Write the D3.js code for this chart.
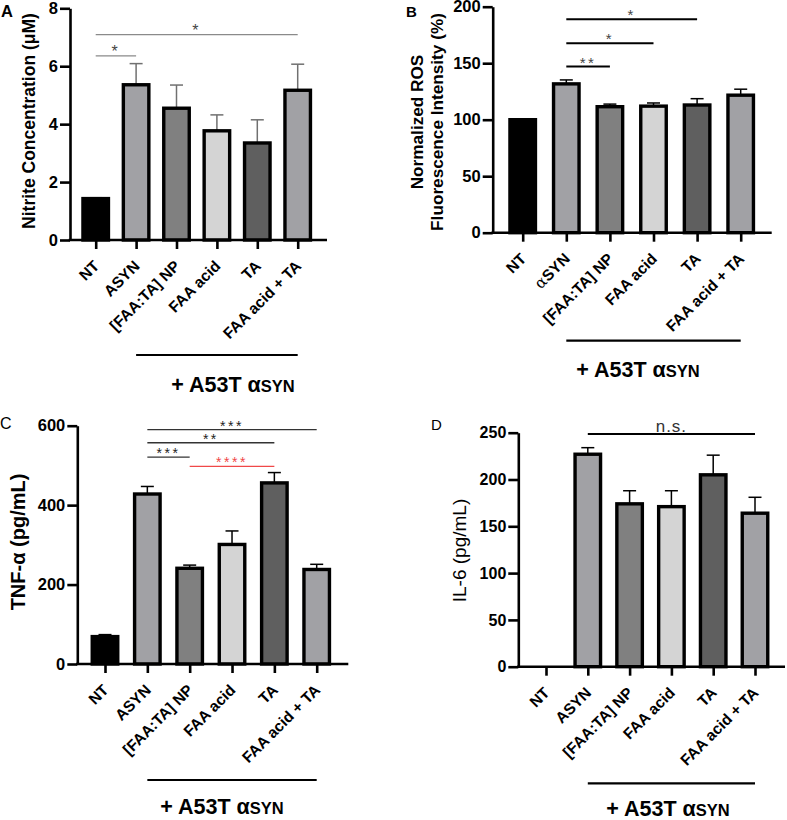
<!DOCTYPE html>
<html>
<head>
<meta charset="utf-8">
<script src="https://cdn.jsdelivr.net/npm/d3@7"></script>
<style>
  html, body { margin: 0; padding: 0; background: #fff; }
  svg { display: block; font-family: "Liberation Sans", Arial, sans-serif; }
</style>
</head>
<body>
<svg id="chart" width="787" height="820"></svg>
<script>
// ---------- DATA ----------
const categoriesA = ["NT", "ASYN", "[FAA:TA] NP", "FAA acid", "TA", "FAA acid + TA"];
const categoriesB = ["NT", "αSYN", "[FAA:TA] NP", "FAA acid", "TA", "FAA acid + TA"];
const categoriesC = ["NT", "ASYN", "[FAA:TA] NP", "FAA acid", "TA", "FAA acid + TA"];
const categoriesD = ["NT", "ASYN", "[FAA:TA] NP", "FAA acid", "TA", "FAA acid + TA"];

const nitriteMean = [1.43, 5.36, 4.55, 3.77, 3.35, 5.17];
const nitriteErr  = [0.03, 0.73, 0.8, 0.55, 0.8, 0.9];
const rosMean     = [100, 131.7, 111.5, 112, 113, 121.7];
const rosErr      = [0, 3.5, 2.3, 2.8, 5.6, 5.3];
const tnfMean     = [69, 428, 241, 301, 456, 238];
const tnfErr      = [5, 19, 8, 34, 26, 13];
const il6Mean     = [0, 227, 174, 171, 205, 164];
const il6Err      = [0, 7, 14, 17, 21, 17];

const ticksA = [0, 2, 4, 6, 8];
const ticksB = [0, 50, 100, 150, 200];
const ticksC = [0, 200, 400, 600];
const ticksD = [0, 50, 100, 150, 200, 250];

const barColors = ["#000000", "#a1a1a5", "#808080", "#d4d4d4", "#5f5f5f", "#a1a1a5"];

// significance annotations: from/to category index, y level (data units), label
const sigA = [
  { from: 0, to: 1, y: 6.36, label: "*" },
  { from: 0, to: 5, y: 7.09, label: "*" }
];
const sigB = [
  { from: 1, to: 2, y: 147, label: "**" },
  { from: 1, to: 3, y: 167.6, label: "*" },
  { from: 1, to: 4, y: 188.8, label: "*" }
];
const sigC = [
  { from: 1, to: 2, y: 521, label: "***", red: false },
  { from: 1, to: 4, y: 557, label: "**", red: false },
  { from: 1, to: 5, y: 590, label: "***", red: false },
  { from: 2, to: 4, y: 497.6, label: "****", red: true }
];
const sigD = [
  { from: 1, to: 5, y: 248.6, label: "n.s." }
];

// ---------- DRAW ----------
const svg = d3.select("#chart");

function panel(cfg) {
  const g = svg.append("g");
  const y = d3.scaleLinear().domain([0, cfg.ymax]).range([cfg.y0, cfg.y1]);
  const x = d3.scalePoint().domain(d3.range(cfg.cats.length)).range([cfg.xa, cfg.xb]);
  const bw = cfg.bw;

  // bars
  cfg.mean.forEach((m, i) => {
    if (m <= 0) return;
    if (cfg.err[i] > 0) {
      g.append("line")
        .attr("x1", x(i)).attr("x2", x(i))
        .attr("y1", y(m)).attr("y2", y(m + cfg.err[i]))
        .attr("stroke", cfg.errColor).attr("stroke-width", 1.5);
      g.append("line")
        .attr("x1", x(i) - 6.5).attr("x2", x(i) + 6.5)
        .attr("y1", y(m + cfg.err[i])).attr("y2", y(m + cfg.err[i]))
        .attr("stroke", cfg.errColor).attr("stroke-width", 1.5);
    }
    g.append("rect")
      .attr("x", x(i) - bw / 2).attr("width", bw)
      .attr("y", y(m)).attr("height", y(0) - y(m))
      .attr("fill", barColors[i])
      .attr("stroke", "#000").attr("stroke-width", 3.4);
  });

  // y axis
  const ya = g.append("g").attr("transform", `translate(${cfg.yx},0)`)
    .call(d3.axisLeft(y).tickValues(cfg.ticks).tickSize(10).tickSizeOuter(0).tickPadding(2));
  ya.select(".domain").attr("stroke", "#000").attr("stroke-width", 2.6);
  ya.selectAll(".tick line").attr("stroke", "#000").attr("stroke-width", 2.6);
  ya.selectAll(".tick text").attr("font-size", cfg.tickFont).attr("font-weight", "bold")
    .attr("fill", "#000").attr("font-family", "Liberation Sans, Arial, sans-serif");

  // x axis
  g.append("line").attr("x1", cfg.yx - 1.3).attr("x2", cfg.xend)
    .attr("y1", y(0)).attr("y2", y(0)).attr("stroke", "#000").attr("stroke-width", 2.6);
  const xa = g.append("g").attr("transform", `translate(0,${y(0)})`)
    .call(d3.axisBottom(x).tickSize(9).tickFormat(""));
  xa.select(".domain").remove();
  xa.selectAll(".tick line").attr("stroke", "#000").attr("stroke-width", 2.6);

  // category labels
  cfg.cats.forEach((c, i) => {
    const t = g.append("text")
      .attr("transform", `translate(${x(i) + 4.5},${y(0) + 27}) rotate(-45)`)
      .attr("text-anchor", "end")
      .attr("font-size", cfg.catFont).attr("font-weight", "bold").attr("fill", "#000");
    if (c.startsWith("α")) {
      t.append("tspan").attr("font-weight", "normal").attr("font-family", "DejaVu Serif, serif").text("α");
      t.append("tspan").text(c.slice(1));
    } else {
      t.text(c);
    }
  });

  // significance
  cfg.sig.forEach(s => {
    const col = s.red ? "#f04848" : cfg.sigColor;
    g.append("line")
      .attr("x1", x(s.from)).attr("x2", x(s.to))
      .attr("y1", y(s.y)).attr("y2", y(s.y))
      .attr("stroke", col).attr("stroke-width", cfg.sigWidth);
    g.append("text")
      .attr("x", (x(s.from) + x(s.to)) / 2).attr("y", y(s.y) + cfg.sigDy)
      .attr("text-anchor", "middle")
      .attr("font-size", cfg.sigFont)
      .attr("fill", s.red ? "#f04848" : cfg.sigTextColor)
      .attr("letter-spacing", s.label === "n.s." ? 1 : 2.5)
      .text(s.label);
  });

  // y title
  const ty = g.append("text")
    .attr("transform", `translate(${cfg.titleX},${cfg.titleY}) rotate(-90)`)
    .attr("text-anchor", "middle")
    .attr("font-size", cfg.titleFont)
    .attr("font-weight", cfg.titleWeight)
    .attr("fill", "#000");
  cfg.title.forEach((line, k) => {
    ty.append("tspan").attr("x", 0).attr("dy", k === 0 ? 0 : cfg.titleLead).text(line);
  });

  // bracket + group label
  g.append("line")
    .attr("x1", x(1)).attr("x2", x(5))
    .attr("y1", y(0) + cfg.bracketDy).attr("y2", y(0) + cfg.bracketDy)
    .attr("stroke", "#000").attr("stroke-width", 2.2);
  const gl = g.append("text")
    .attr("x", cfg.groupX).attr("y", y(0) + cfg.groupDy)
    .attr("text-anchor", "middle").attr("font-weight", "bold").attr("fill", "#000");
  gl.append("tspan").attr("font-size", 21.5).text("+ A53T α");
  gl.append("tspan").attr("font-size", 16.5).text("SYN");

  // panel letter
  g.append("text").attr("x", cfg.letterX).attr("y", cfg.letterY)
    .attr("font-size", cfg.letterFont).attr("font-weight", cfg.letterWeight)
    .attr("fill", "#000").text(cfg.letter);
}

panel({
  cats: categoriesA, mean: nitriteMean, err: nitriteErr, ticks: ticksA, ymax: 8,
  y0: 240, y1: 8.3, yx: 70, xa: 95.7, xb: 297.7, xend: 327, bw: 25.5,
  errColor: "#707070", tickFont: 16.5, catFont: 15.5,
  sig: sigA, sigColor: "#8a8a8a", sigTextColor: "#444", sigWidth: 1.2, sigFont: 16, sigDy: 1,
  title: ["Nitrite Concentration (μM)"], titleX: 35, titleY: 121, titleFont: 17.5, titleWeight: "bold", titleLead: 0,
  bracketDy: 115, groupX: 233, groupDy: 151.5,
  letter: "A", letterX: 1, letterY: 16.5, letterFont: 16.5, letterWeight: "bold"
});

panel({
  cats: categoriesB, mean: rosMean, err: rosErr, ticks: ticksB, ymax: 200,
  y0: 232.7, y1: 6.7, yx: 492.7, xa: 522.7, xb: 740.7, xend: 771.7, bw: 25.5,
  errColor: "#000", tickFont: 16.5, catFont: 15.5,
  sig: sigB, sigColor: "#000", sigTextColor: "#444", sigWidth: 2, sigFont: 15, sigDy: 1,
  title: ["Normalized ROS", "Fluorescence Intensity (%)"], titleX: 423, titleY: 122, titleFont: 17.2, titleWeight: "bold", titleLead: 20,
  bracketDy: 108, groupX: 638, groupDy: 144,
  letter: "B", letterX: 406, letterY: 16.5, letterFont: 15, letterWeight: "bold"
});

panel({
  cats: categoriesC, mean: tnfMean, err: tnfErr, ticks: ticksC, ymax: 600,
  y0: 664, y1: 425.7, yx: 77.3, xa: 105, xb: 316.7, xend: 348.3, bw: 25.5,
  errColor: "#000", tickFont: 16.5, catFont: 15.5,
  sig: sigC, sigColor: "#333", sigTextColor: "#222", sigWidth: 1.4, sigFont: 14, sigDy: 1,
  title: ["TNF-α (pg/mL)"], titleX: 25, titleY: 542, titleFont: 20, titleWeight: "bold", titleLead: 0,
  bracketDy: 116, groupX: 222, groupDy: 150,
  letter: "C", letterX: 0, letterY: 428.5, letterFont: 16, letterWeight: "normal"
});

panel({
  cats: categoriesD, mean: il6Mean, err: il6Err, ticks: ticksD, ymax: 250,
  y0: 666.7, y1: 432.7, yx: 518.3, xa: 546, xb: 755, xend: 785, bw: 25.5,
  errColor: "#000", tickFont: 16, catFont: 15.5,
  sig: sigD, sigColor: "#000", sigTextColor: "#333", sigWidth: 2, sigFont: 17, sigDy: -2,
  title: ["IL-6 (pg/mL)"], titleX: 466, titleY: 550.5, titleFont: 19, titleWeight: "normal", titleLead: 0,
  bracketDy: 116.6, groupX: 668, groupDy: 149,
  letter: "D", letterX: 431, letterY: 430, letterFont: 15, letterWeight: "normal"
});
</script>
</body>
</html>
